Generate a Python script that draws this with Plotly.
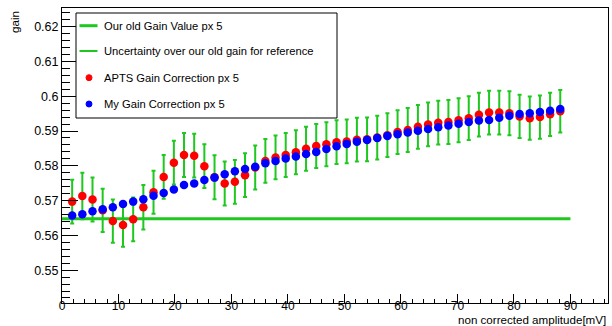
import plotly.graph_objects as go

# ---------------- data ----------------
amplitude = [1.8, 3.6, 5.4, 7.2, 9.0, 10.8, 12.6, 14.4, 16.2, 18.0,
             19.8, 21.6, 23.4, 25.2, 27.0, 28.8, 30.6, 32.4, 34.2, 36.0,
             37.8, 39.6, 41.4, 43.2, 45.0, 46.8, 48.6, 50.4, 52.2, 54.0,
             55.8, 57.6, 59.4, 61.2, 63.0, 64.8, 66.6, 68.4, 70.2, 72.0,
             73.8, 75.6, 77.4, 79.2, 81.0, 82.8, 84.6, 86.4, 88.2]

apts_gain = [0.5697, 0.5713, 0.5703, 0.5672, 0.5641, 0.5630, 0.5646, 0.5681, 0.5724, 0.5768,
             0.5809, 0.5831, 0.5829, 0.5799, 0.5767, 0.5749, 0.5754, 0.5773, 0.5795, 0.5814,
             0.5824, 0.5831, 0.5839, 0.5849, 0.5857, 0.5862, 0.5868, 0.5870, 0.5875, 0.5876,
             0.5881, 0.5888, 0.5897, 0.5903, 0.5912, 0.5919, 0.5924, 0.5926, 0.5931, 0.5937,
             0.5947, 0.5953, 0.5953, 0.5951, 0.5942, 0.5937, 0.5940, 0.5948, 0.5957]

my_gain = [0.5657, 0.5661, 0.5669, 0.5675, 0.5681, 0.5690, 0.5697, 0.5704, 0.5714, 0.5722,
           0.5732, 0.5745, 0.5749, 0.5759, 0.5766, 0.5776, 0.5784, 0.5791, 0.5797, 0.5807,
           0.5814, 0.5821, 0.5827, 0.5834, 0.5840, 0.5848, 0.5856, 0.5863, 0.5869, 0.5874,
           0.5880, 0.5886, 0.5891, 0.5896, 0.5901, 0.5906, 0.5911, 0.5916, 0.5921, 0.5926,
           0.5930, 0.5932, 0.5938, 0.5944, 0.5949, 0.5951, 0.5955, 0.5958, 0.5963]

uncertainty = [0.0063, 0.0067, 0.0063, 0.0062, 0.0062, 0.0063, 0.0063, 0.0064, 0.0062, 0.0063,
               0.0063, 0.0063, 0.0063, 0.0063, 0.0063, 0.0063, 0.0063, 0.0063, 0.0063, 0.0063,
               0.0063, 0.0063, 0.0063, 0.0063, 0.0063, 0.0063, 0.0063, 0.0063, 0.0063, 0.0063,
               0.0063, 0.0063, 0.0063, 0.0063, 0.0063, 0.0063, 0.0063, 0.0063, 0.0063, 0.0063,
               0.0063, 0.0063, 0.0063, 0.0063, 0.0062, 0.0062, 0.0062, 0.0062, 0.0061]

old_gain = 0.5648
old_gain_x = [0, 90]

legend_labels = ["Our old Gain Value px 5",
                 "Uncertainty over our old gain for reference",
                 "APTS Gain Correction px 5",
                 "My Gain Correction px 5"]

x_title = "non corrected amplitude[mV]"
y_title = "gain"

# ---------------- style ----------------
GREEN = "rgb(30,200,30)"
RED = "rgb(255,0,0)"
BLUE = "rgb(0,0,255)"
FONT = "Liberation Sans, Arial, Helvetica, sans-serif"

W, H = 612, 326
ML, MR, MT, MB = 62, 4, 8, 23
PW, PH = W - ML - MR, H - MT - MB


def px(xp):
    return (xp - ML) / PW


def py(yp):
    return (H - MB - yp) / PH


fig = go.Figure()

fig.add_trace(go.Scatter(
    x=old_gain_x, y=[old_gain, old_gain], mode="lines",
    line=dict(color=GREEN, width=3), showlegend=False, hoverinfo="skip"))

fig.add_trace(go.Scatter(
    x=amplitude, y=apts_gain, mode="markers",
    marker=dict(color=RED, size=8.5, line=dict(width=0)),
    error_y=dict(type="data", array=uncertainty, visible=True,
                 color=GREEN, thickness=2, width=2),
    showlegend=False))

fig.add_trace(go.Scatter(
    x=amplitude, y=my_gain, mode="markers",
    marker=dict(color=BLUE, size=8.5, line=dict(width=0)),
    showlegend=False))

axis_common = dict(
    showgrid=False, zeroline=False, showline=True, linecolor="black",
    linewidth=1, mirror=True, ticks="inside", tickcolor="black")

fig.update_xaxes(range=[0, 96.65], dtick=10, tick0=0, ticklen=9,
                 ticklabelstandoff=-8,
                 tickfont=dict(family=FONT, size=12, color="black"),
                 minor=dict(dtick=2, ticks="inside", ticklen=4, tickcolor="black"),
                 **axis_common)
fig.update_yaxes(range=[0.54055, 0.62537], dtick=0.01, tick0=0.5, ticklen=16,
                 tickformat="~g",
                 tickfont=dict(family=FONT, size=12.5, color="black"),
                 minor=dict(dtick=0.002, ticks="inside", ticklen=8, tickcolor="black"),
                 **axis_common)

shapes = []
annotations = []

# legend box
shapes.append(dict(type="rect", xref="paper", yref="paper",
                   x0=px(76), x1=px(337), y0=py(118), y1=py(13),
                   line=dict(color="black", width=1), fillcolor="white", layer="above"))
entry_y = [25.7, 51.0, 77.7, 104.0]
# line symbols
shapes.append(dict(type="line", xref="paper", yref="paper",
                   x0=px(79.5), x1=px(97.5), y0=py(entry_y[0]), y1=py(entry_y[0]),
                   line=dict(color=GREEN, width=3), layer="above"))
shapes.append(dict(type="line", xref="paper", yref="paper",
                   x0=px(79.5), x1=px(97.5), y0=py(entry_y[1]), y1=py(entry_y[1]),
                   line=dict(color=GREEN, width=2), layer="above"))
# marker symbols
for yy, col in [(entry_y[2], RED), (entry_y[3], BLUE)]:
    shapes.append(dict(type="circle", xref="paper", yref="paper",
                       x0=px(86), x1=px(92), y0=py(yy + 3), y1=py(yy - 3),
                       line=dict(color=col, width=1), fillcolor=col, layer="above"))
for yy, lab in zip(entry_y, legend_labels):
    annotations.append(dict(text=lab, xref="paper", yref="paper",
                            x=px(101.5), y=py(yy), xanchor="left", yanchor="middle",
                            showarrow=False, font=dict(family=FONT, size=11.2, color="black")))

# axis titles (ROOT style: aligned to axis ends)
annotations.append(dict(text=x_title, xref="paper", yref="paper",
                        x=1.0, y=py(319.5), xanchor="right", yanchor="middle",
                        showarrow=False, font=dict(family=FONT, size=11.6, color="black")))
annotations.append(dict(text=y_title, xref="paper", yref="paper",
                        x=px(14), y=py(22), xanchor="center", yanchor="middle",
                        textangle=-90, showarrow=False,
                        font=dict(family=FONT, size=11.6, color="black")))

fig.update_layout(
    width=W, height=H,
    margin=dict(l=ML, r=MR, t=MT, b=MB, pad=0),
    paper_bgcolor="white", plot_bgcolor="white",
    shapes=shapes, annotations=annotations, showlegend=False)

fig.write_html("out.html")
